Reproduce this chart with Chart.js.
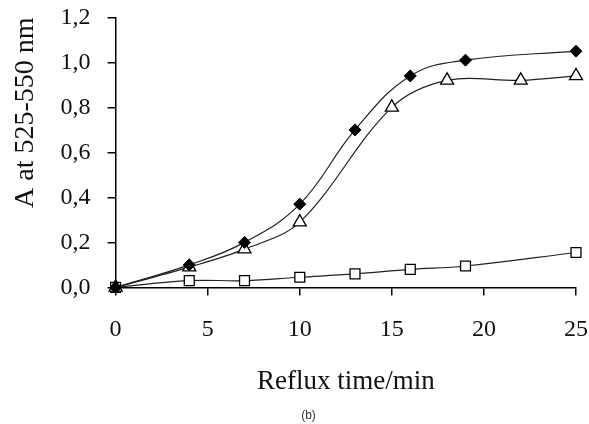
<!DOCTYPE html>
<html>
<head>
<meta charset="utf-8">
<script src="https://cdn.jsdelivr.net/npm/chart.js@4.4.0/dist/chart.umd.min.js"></script>
<style>
  html, body { margin: 0; padding: 0; background: #fff; }
  #wrap { width: 589px; height: 424px; position: relative; overflow: hidden; }
  #c { position: absolute; left: 0; top: -14px; }
</style>
</head>
<body>
<div id="wrap"><canvas id="c" width="608" height="442"></canvas></div>
<script>
// Data
const timeDiamond = [0, 4, 7, 10, 13, 16, 19, 25];
const valDiamond  = [0, 0.10, 0.20, 0.37, 0.70, 0.94, 1.01, 1.05];

const timeTriangle = [0, 4, 7, 10, 15, 18, 22, 25];
const valTriangle  = [0, 0.09, 0.17, 0.29, 0.80, 0.92, 0.92, 0.94];

const timeSquare = [0, 4, 7, 10, 13, 16, 19, 25];
const valSquare  = [0, 0.03, 0.03, 0.045, 0.06, 0.08, 0.095, 0.155];

const xTicks = [0, 5, 10, 15, 20, 25];
const yTicks = [0, 0.2, 0.4, 0.6, 0.8, 1.0, 1.2];

const xTitle = 'Reflux time/min';
const yTitle = 'A at 525-550 nm';
const caption = '(b)';

function pts(xs, ys) { return xs.map((x, i) => ({ x: x, y: ys[i] })); }

const serif = "'Liberation Serif', 'Times New Roman', serif";

new Chart(document.getElementById('c'), {
  type: 'line',
  data: {
    datasets: [
      {
        data: pts(timeDiamond, valDiamond),
        borderColor: '#222', borderWidth: 1.2,
        pointStyle: 'rectRot', pointRadius: 6,
        pointBackgroundColor: '#000', pointBorderColor: '#000', pointBorderWidth: 1,
        tension: 0.4, clip: false
      },
      {
        data: pts(timeTriangle, valTriangle),
        borderColor: '#222', borderWidth: 1.2,
        pointStyle: 'triangle', pointRadius: 7.5,
        pointBackgroundColor: '#fff', pointBorderColor: '#000', pointBorderWidth: 1.3,
        tension: 0.35, clip: false
      },
      {
        data: pts(timeSquare, valSquare),
        borderColor: '#222', borderWidth: 1.2,
        pointStyle: 'rect', pointRadius: 7,
        pointBackgroundColor: '#fff', pointBorderColor: '#000', pointBorderWidth: 1.3,
        tension: 0.4, clip: false
      }
    ]
  },
  options: {
    responsive: false,
    animation: false,
    layout: { padding: { left: 9, right: 0, top: 0, bottom: 5 } },
    plugins: {
      legend: { display: false },
      tooltip: { enabled: false },
      title: {
        display: true, position: 'bottom', text: caption,
        color: '#333', font: { family: "'Liberation Sans', Arial, sans-serif", size: 12, weight: 'normal' },
        padding: { top: 10, bottom: 0 }
      }
    },
    scales: {
      x: {
        type: 'linear', min: 0, max: 25,
        afterBuildTicks: (s) => { s.ticks = xTicks.map(v => ({ value: v })); },
        ticks: { color: '#111', font: { family: serif, size: 24 }, padding: 20, maxRotation: 0 },
        grid: { drawOnChartArea: false, tickLength: 8, color: '#000', lineWidth: 1.5 },
        border: { color: '#000', width: 1.5 },
        title: { display: true, text: xTitle, color: '#111', font: { family: serif, size: 27 }, padding: { top: 2, bottom: 0 } }
      },
      y: {
        min: 0, max: 1.2,
        afterBuildTicks: (s) => { s.ticks = yTicks.map(v => ({ value: v })); },
        ticks: {
          color: '#111', font: { family: serif, size: 24 }, padding: 17,
          callback: (v) => Number(v).toFixed(1).replace('.', ',')
        },
        grid: { drawOnChartArea: false, tickLength: 8, color: '#000', lineWidth: 1.5 },
        border: { color: '#000', width: 1.5 },
        title: { display: true, text: yTitle, align: 'end', color: '#111', font: { family: serif, size: 28 }, padding: { top: 0, bottom: 1 } }
      }
    }
  }
});
</script>
</body>
</html>
